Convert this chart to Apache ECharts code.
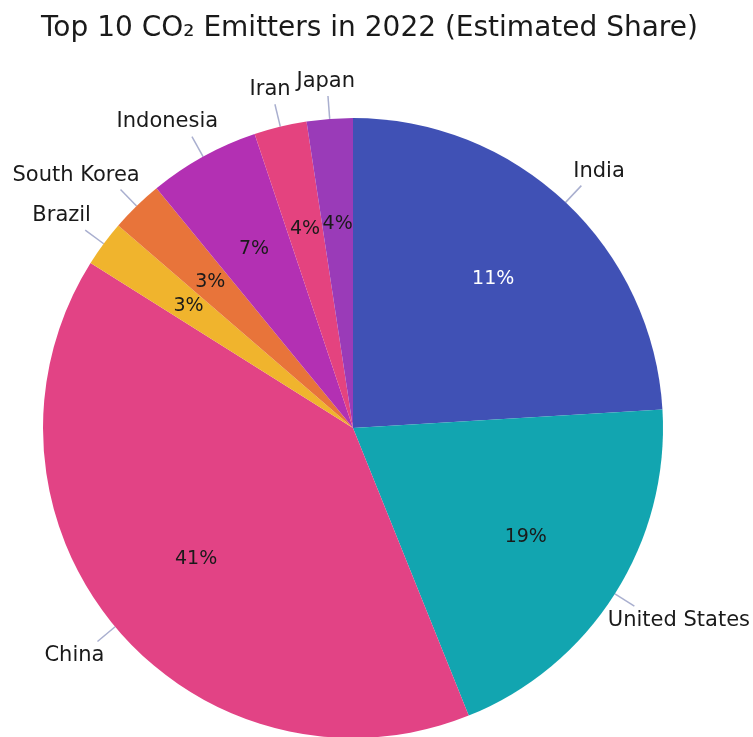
<!DOCTYPE html>
<html>
<head>
<meta charset="utf-8">
<script src="https://cdn.jsdelivr.net/npm/echarts@6/dist/echarts.min.js"></script>
<style>
html,body{margin:0;padding:0;background:#fff;}
#chart{width:753px;height:737px;}
</style>
</head>
<body>
<div id="chart"></div>
<script>
// Countries in drawing order (clockwise from 12 o'clock)
const countries = ['India', 'United States', 'China', 'Brazil', 'South Korea', 'Indonesia', 'Iran', 'Japan'];
// Slice sizes (percent of circle)
const sliceShare = [24.1, 19.9, 40.1, 2.4, 2.75, 5.8, 2.75, 2.4];
// Percentage texts printed inside the slices
const shareLabels = ['11%', '19%', '41%', '3%', '3%', '7%', '4%', '4%'];
const colors = ['#4051B5', '#12A5B0', '#E24385', '#F0B42D', '#E8743A', '#B330B3', '#E4437F', '#9A3BB8'];
const pctTextColors = ['#ffffff', '#1a1a1a', '#1a1a1a', '#1a1a1a', '#1a1a1a', '#1a1a1a', '#1a1a1a', '#1a1a1a'];

const FONT = 'DejaVu Sans';
const W = 753;
const R = 310;
const CENTER = [353, 428];

const sliceData = countries.map((c, i) => ({
  name: c,
  value: sliceShare[i],
  itemStyle: { color: colors[i] }
}));
const pctData = countries.map((c, i) => ({
  name: c,
  value: sliceShare[i],
  label: { formatter: shareLabels[i], color: pctTextColors[i] }
}));

// Place each outer label next to the end of its radial leader line, pushed
// outward along the line's direction, keep it inside the canvas, and keep the
// leader line itself radial.
function outerLabelLayout(params) {
  if (params.seriesIndex !== 0 || !params.labelLinePoints) return {};
  const pts = params.labelLinePoints.map(p => [p[0], p[1]]);
  const end = pts[pts.length - 1];
  const dx = end[0] - CENTER[0];
  const dy = end[1] - CENTER[1];
  const len = Math.sqrt(dx * dx + dy * dy) || 1;
  const cos = dx / len;
  const w = params.labelRect.width;
  const h = params.labelRect.height;
  let x = end[0] + (w / 2) * cos;
  x = Math.min(x, W - 3 - w / 2);
  x = Math.max(x, 3 + w / 2);
  const y = end[1] + (dy >= 0 ? 1 : -1) * (h / 2 + 4);
  return { x: x, y: y, align: 'center', verticalAlign: 'middle', labelLinePoints: pts };
}

const chart = echarts.init(document.getElementById('chart'), null, { renderer: 'canvas' });
chart.setOption({
  backgroundColor: '#ffffff',
  animation: false,
  title: {
    text: 'Top 10 CO\u2082 Emitters in 2022 (Estimated Share)',
    left: 36,
    top: 10,
    textStyle: { fontFamily: FONT, fontSize: 28, fontWeight: 'normal', color: '#1a1a1a' }
  },
  series: [
    {
      type: 'pie',
      center: CENTER,
      radius: [0, R],
      startAngle: 90,
      clockwise: true,
      silent: true,
      avoidLabelOverlap: false,
      data: sliceData,
      itemStyle: { borderWidth: 0 },
      label: {
        show: true,
        position: 'outside',
        fontFamily: FONT,
        fontSize: 21,
        color: '#1a1a1a'
      },
      labelLine: {
        show: true,
        length: 23,
        length2: 0,
        lineStyle: { color: '#A9AFCF', width: 1.5 }
      },
      labelLayout: outerLabelLayout
    },
    {
      type: 'pie',
      center: CENTER,
      radius: [0, R * 1.3],
      startAngle: 90,
      clockwise: true,
      silent: true,
      data: pctData,
      itemStyle: { color: 'rgba(0,0,0,0)' },
      label: {
        show: true,
        position: 'inside',
        fontFamily: FONT,
        fontSize: 19
      },
      labelLine: { show: false }
    }
  ]
});
</script>
</body>
</html>
